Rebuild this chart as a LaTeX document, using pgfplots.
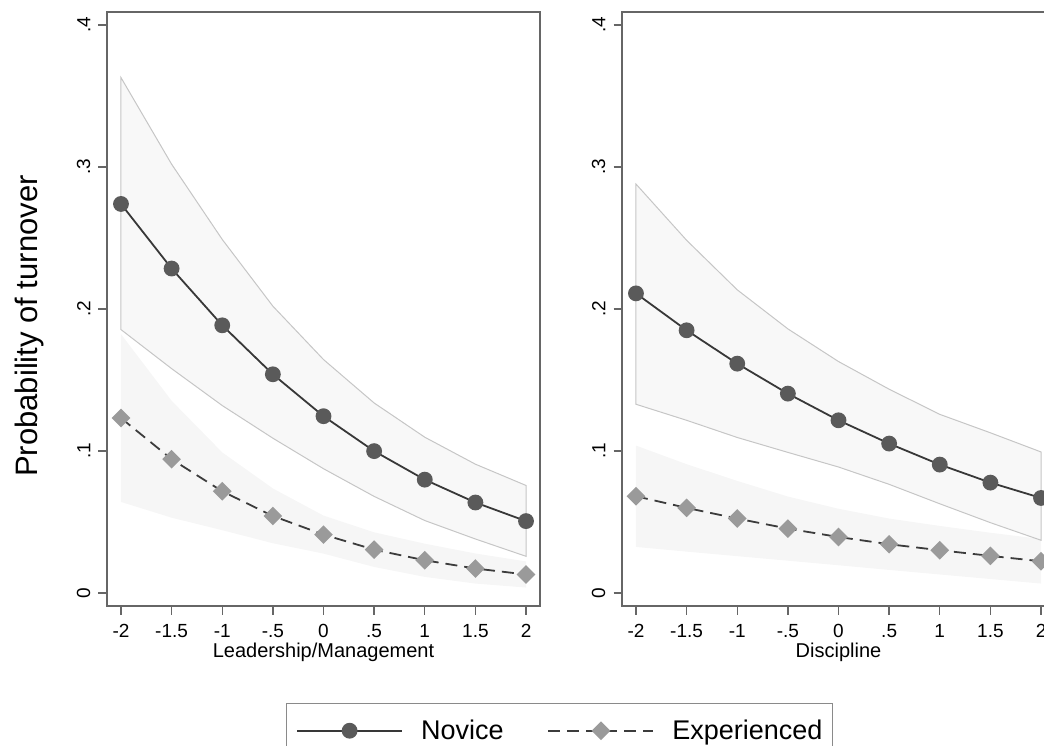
\documentclass[border=0pt]{standalone}
\usepackage{pgfplots}
\pgfplotsset{compat=1.18}
\usepackage{fontspec}
\setmainfont{Liberation Sans}
\definecolor{framegray}{HTML}{666666}
\definecolor{legendgray}{HTML}{8A8A8A}
\definecolor{novline}{HTML}{383838}
\definecolor{novmark}{HTML}{5A5A5A}
\definecolor{expline}{HTML}{3C3C3C}
\definecolor{expmark}{HTML}{9A9A9A}
\definecolor{novfill}{HTML}{F3F3F3}
\definecolor{expfill}{HTML}{F6F6F6}
\definecolor{ciline}{HTML}{C6C6C6}
\pgfplotsset{
  panel/.style={
    scale only axis, width=433pt, height=594pt,
    anchor=south west,
    xmin=-2.138, xmax=2.138, ymin=-0.0092, ymax=0.4092,
    xtick={-2,-1.5,-1,-0.5,0,0.5,1,1.5,2},
    xticklabels={-2,-1.5,-1,-.5,0,.5,1,1.5,2},
    ytick={0,0.1,0.2,0.3,0.4},
    yticklabels={0,.1,.2,.3,.4},
    tick pos=left, tick align=outside, major tick length=8.5pt,
    axis line style={framegray, line width=1.8pt},
    tick style={framegray, line width=1.3pt},
    tick label style={font=\fontsize{19}{22}\selectfont},
    yticklabel style={rotate=90, anchor=south, inner sep=0pt},
    xticklabel style={anchor=north, inner sep=0pt},
    xticklabel shift=10pt, yticklabel shift=8pt,
    legend image code/.code={\draw[mark repeat=2,mark phase=2,#1] plot coordinates {(0pt,0pt) (52.5pt,0pt) (105pt,0pt)};},
  },
  novstyle/.style={novline, line width=1.8pt, mark=*, mark size=7pt, mark options={fill=novmark, draw=novmark, solid}},
  expstyle/.style={expline, line width=1.8pt, dash pattern=on 12pt off 7pt, mark=square*, mark size=5.7pt, mark options={fill=expmark, draw=expmark, rotate=45, solid}},
  expci/.style={fill=expfill, draw=none, forget plot},
  novci/.style={fill=novfill, fill opacity=0.6, draw=ciline, line width=1pt, forget plot},
}
\begin{document}
\begin{tikzpicture}
\path[use as bounding box] (0pt,0pt) rectangle (1044pt,745pt);
\clip (0pt,0pt) rectangle (1044pt,745pt);

% ---------- left panel: Leadership/Management ----------
\begin{axis}[panel, at={(107pt,139pt)},
  legend columns=2, legend cell align=left,
  legend style={at={(0.4125,-0.1626)}, anchor=north west, draw=legendgray, line width=1.2pt, fill=white,
    inner xsep=10pt, inner ysep=17pt, font=\fontsize{27}{32}\selectfont,
    nodes={inner sep=0pt},
    /tikz/every odd column/.append style={column sep=18pt},
    /tikz/every even column/.append style={column sep=44pt}},
]
\addplot[expci] coordinates {
 (-2,0.1823) (-1.5,0.1354) (-1,0.0990) (-0.5,0.0736) (0,0.0545) (0.5,0.0427) (1,0.0347) (1.5,0.0278) (2,0.0222)
 (2,0.0038) (1.5,0.0066) (1,0.0113) (0.5,0.0183) (0,0.0277) (-0.5,0.0350) (-1,0.0442) (-1.5,0.0530) (-2,0.0641)} -- cycle;
\addplot[novci] coordinates {
 (-2,0.363) (-1.5,0.302) (-1,0.249) (-0.5,0.202) (0,0.1644) (0.5,0.1338) (1,0.1097) (1.5,0.0907) (2,0.0757)
 (2,0.0258) (1.5,0.038) (1,0.051) (0.5,0.068) (0,0.0875) (-0.5,0.109) (-1,0.132) (-1.5,0.158) (-2,0.1855)} -- cycle;
\addplot[novstyle] coordinates {
 (-2,0.2740) (-1.5,0.2285) (-1,0.1885) (-0.5,0.1540) (0,0.1245) (0.5,0.0999) (1,0.0798) (1.5,0.0637) (2,0.0506)};
\addlegendentry{Novice}
\addplot[expstyle] coordinates {
 (-2,0.1232) (-1.5,0.0942) (-1,0.0716) (-0.5,0.0542) (0,0.0411) (0.5,0.0305) (1,0.0230) (1.5,0.0172) (2,0.0130)};
\addlegendentry{Experienced}
\end{axis}

% ---------- right panel: Discipline ----------
\begin{axis}[panel, at={(622pt,139pt)}]
\addplot[expci] coordinates {
 (-2,0.1038) (-1.5,0.0907) (-1,0.0789) (-0.5,0.0679) (0,0.0593) (0.5,0.0524) (1,0.0472) (1.5,0.0424) (2,0.0380)
 (2,0.0066) (1.5,0.0098) (1,0.0130) (0.5,0.0162) (0,0.0195) (-0.5,0.0227) (-1,0.0259) (-1.5,0.0291) (-2,0.0324)} -- cycle;
\addplot[novci] coordinates {
 (-2,0.288) (-1.5,0.2484) (-1,0.2135) (-0.5,0.186) (0,0.163) (0.5,0.1435) (1,0.1258) (1.5,0.1128) (2,0.0993)
 (2,0.0371) (1.5,0.0495) (1,0.0628) (0.5,0.0765) (0,0.0887) (-0.5,0.099) (-1,0.1095) (-1.5,0.1216) (-2,0.1329)} -- cycle;
\addplot[novstyle] coordinates {
 (-2,0.2110) (-1.5,0.1850) (-1,0.1615) (-0.5,0.1404) (0,0.1216) (0.5,0.1052) (1,0.0904) (1.5,0.0777) (2,0.0669)};
\addplot[expstyle] coordinates {
 (-2,0.0681) (-1.5,0.0599) (-1,0.0524) (-0.5,0.0453) (0,0.0394) (0.5,0.0343) (1,0.0301) (1.5,0.0261) (2,0.0223)};
\end{axis}

% ---------- titles ----------
\node[rotate=90, anchor=base, inner sep=0pt, font=\fontsize{31}{36}\selectfont] at (37pt,419pt) {Probability of turnover};
\node[anchor=base, inner sep=0pt, font=\fontsize{20}{24}\selectfont] at (323.5pt,88pt) {Leadership/Management};
\node[anchor=base, inner sep=0pt, font=\fontsize{20}{24}\selectfont] at (838.5pt,88pt) {Discipline};
\end{tikzpicture}
\end{document}
